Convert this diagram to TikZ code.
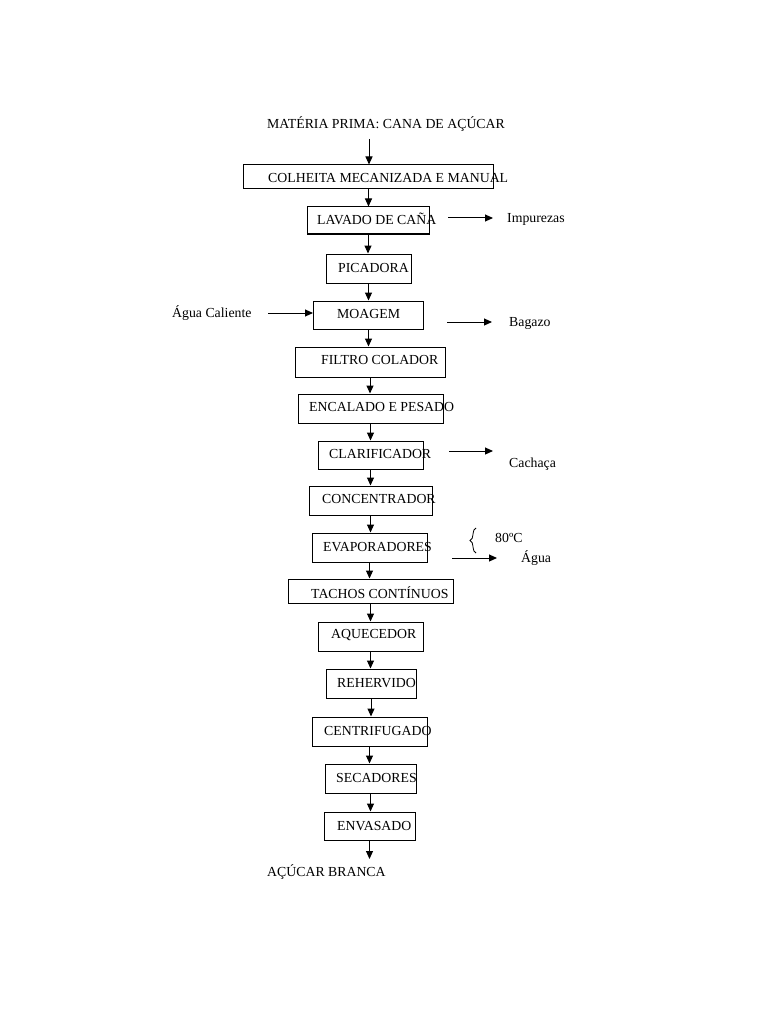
\documentclass[tikz,border=0pt]{standalone}
\usepackage{fontspec}
\setmainfont{Liberation Serif}
\usetikzlibrary{arrows.meta,decorations.pathreplacing}

\begin{document}
\begin{tikzpicture}[x=1pt, y=-1pt,
    box/.style={rectangle, draw, line width=1pt, inner sep=0pt},
    txt/.style={anchor=west, inner sep=0pt, font=\fontsize{13.8}{16}\selectfont},
    arrow/.style={-{Triangle[length=8pt,width=7pt]}, line width=1pt}
]
\useasboundingbox (0,0) rectangle (768,1024);

% process boxes
\node[box, minimum width=250pt, minimum height=24pt] (colheita) at (368.5,177) {};
\node[box, minimum width=122pt, minimum height=27pt] (lavado) at (368,220.5) {};
\node[box, minimum width=85pt, minimum height=29pt] (picadora) at (368.5,268.5) {};
\node[box, minimum width=110pt, minimum height=28pt] (moagem) at (368.5,315) {};
\node[box, minimum width=150pt, minimum height=30pt] (filtro) at (370,362) {};
\node[box, minimum width=145pt, minimum height=29pt] (encalado) at (370.5,408.5) {};
\node[box, minimum width=105pt, minimum height=28pt] (clarificador) at (370.5,455) {};
\node[box, minimum width=123pt, minimum height=29pt] (concentrador) at (370.5,500.5) {};
\node[box, minimum width=115pt, minimum height=29pt] (evaporadores) at (369.5,547.5) {};
\node[box, minimum width=165pt, minimum height=24pt] (tachos) at (370.5,591) {};
\node[box, minimum width=105pt, minimum height=29pt] (aquecedor) at (370.5,636.5) {};
\node[box, minimum width=90pt, minimum height=29pt] (rehervido) at (371,683.5) {};
\node[box, minimum width=115pt, minimum height=29pt] (centrifugado) at (369.5,731.5) {};
\node[box, minimum width=91pt, minimum height=29pt] (secadores) at (370.5,778.5) {};
\node[box, minimum width=91pt, minimum height=28pt] (envasado) at (369.5,826) {};

% texts
\node[txt] (materia) at (267,124) {MATÉRIA PRIMA: CANA DE AÇÚCAR};
\node[txt] (colheita_txt) at (268,178) {COLHEITA MECANIZADA E MANUAL};
\node[txt] (lavado_txt) at (317,219) {LAVADO DE CAÑA};
\node[txt] (picadora_txt) at (338,268) {PICADORA};
\node[txt] (moagem_txt) at (337,314) {MOAGEM};
\node[txt] (filtro_txt) at (321,360) {FILTRO COLADOR};
\node[txt] (encalado_txt) at (309,407) {ENCALADO E PESADO};
\node[txt] (clarificador_txt) at (329,454) {CLARIFICADOR};
\node[txt] (concentrador_txt) at (322,499) {CONCENTRADOR};
\node[txt] (evaporadores_txt) at (323,547) {EVAPORADORES};
\node[txt] (tachos_txt) at (311,593) {TACHOS CONTÍNUOS};
\node[txt] (aquecedor_txt) at (331,635) {AQUECEDOR};
\node[txt] (rehervido_txt) at (337,683) {REHERVIDO};
\node[txt] (centrifugado_txt) at (324,731) {CENTRIFUGADO};
\node[txt] (secadores_txt) at (336,778) {SECADORES};
\node[txt] (envasado_txt) at (337,826) {ENVASADO};
\node[txt] (acucar) at (267,872) {AÇÚCAR BRANCA};

% side streams
\node[txt] (impurezas) at (507,219) {Impurezas};
\node[txt] (agua_cal) at (172,313) {Água Caliente};
\node[txt] (bagazo) at (509,323) {Bagazo};
\node[txt] (cachaca) at (509,464) {Cachaça};
\node[txt] (temp) at (495,538) {80ºC};
\node[txt] (agua) at (521,558) {Água};

\coordinate (top_a) at (369,139);
\coordinate (end_b) at (370,859);
\coordinate (imp_a) at (448,218);
\coordinate (imp_b) at (493,218);
\coordinate (cal_a) at (268,313);
\coordinate (bag_a) at (447,322);
\coordinate (bag_b) at (492,322);
\coordinate (cach_a) at (449,451);
\coordinate (cach_b) at (493,451);
\coordinate (agua_a) at (452,558);
\coordinate (agua_b) at (497,558);
\coordinate (brace_bot) at (476,553);
\coordinate (brace_top) at (476,528);

% main line
\draw[arrow] (top_a) -- (top_a |- colheita.north);
\draw[arrow] (colheita) -- (colheita |- lavado.north);
\draw[arrow] (lavado) -- (lavado |- picadora.north);
\draw[arrow] (picadora) -- (picadora |- moagem.north);
\draw[arrow] (moagem) -- (moagem |- filtro.north);
\draw[arrow] (filtro) -- (filtro |- encalado.north);
\draw[arrow] (encalado) -- (encalado |- clarificador.north);
\draw[arrow] (clarificador) -- (clarificador |- concentrador.north);
\draw[arrow] (concentrador) -- (concentrador |- evaporadores.north);
\draw[arrow] (evaporadores) -- (evaporadores |- tachos.north);
\draw[arrow] (tachos) -- (tachos |- aquecedor.north);
\draw[arrow] (aquecedor) -- (aquecedor |- rehervido.north);
\draw[arrow] (rehervido) -- (rehervido |- centrifugado.north);
\draw[arrow] (centrifugado) -- (centrifugado |- secadores.north);
\draw[arrow] (secadores) -- (secadores |- envasado.north);
\draw[arrow] (envasado) -- (envasado |- end_b);

% side arrows
\draw[arrow] (imp_a) -- (imp_b);
\draw[arrow] (cal_a) -- (moagem.west |- cal_a);
\draw[arrow] (bag_a) -- (bag_b);
\draw[arrow] (cach_a) -- (cach_b);
\draw[arrow] (agua_a) -- (agua_b);
\draw[decorate, decoration={brace, amplitude=6pt}, line width=0.8pt] (brace_bot) -- (brace_top);

\end{tikzpicture}
\end{document}
